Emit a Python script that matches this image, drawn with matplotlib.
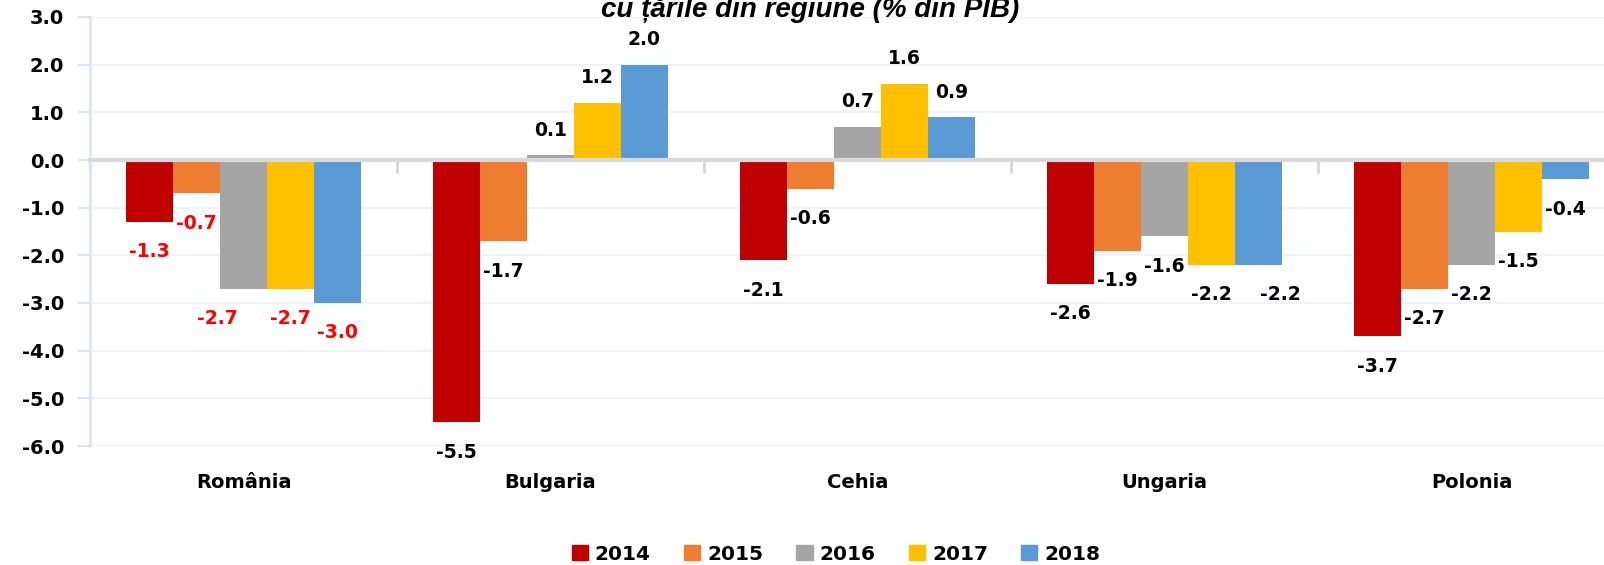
import numpy as np
import matplotlib.pyplot as plt
from matplotlib.patches import Patch

countries = ["România", "Bulgaria", "Cehia", "Ungaria", "Polonia"]
years = ["2014", "2015", "2016", "2017", "2018"]
values_2014 = [-1.3, -5.5, -2.1, -2.6, -3.7]
values_2015 = [-0.7, -1.7, -0.6, -1.9, -2.7]
values_2016 = [-2.7, 0.1, 0.7, -1.6, -2.2]
values_2017 = [-2.7, 1.2, 1.6, -2.2, -1.5]
values_2018 = [-3.0, 2.0, 0.9, -2.2, -0.4]
series = [values_2014, values_2015, values_2016, values_2017, values_2018]

colors = ["#C00000", "#ED7D31", "#A5A5A5", "#FFC000", "#5B9BD5"]
title = "cu țările din regiune (% din PIB)"

# a couple of labels were dragged sideways in the original (px)
label_nudge = {(0, 2): -26, (3, 4): 22}

W, H = 1604, 565
fig = plt.figure(figsize=(W / 100, H / 100), dpi=100)
ax = fig.add_axes([90 / W, 1 - 446 / H, 1535 / W, 429 / H])

x = np.arange(len(countries))
bw = 0.153
for i, vals in enumerate(series):
    pos = x + (i - 2) * bw
    ax.bar(pos, vals, width=bw, color=colors[i], label=years[i], zorder=2)
    for j, v in enumerate(vals):
        dy = 18 if v > 0 else -21.6
        dx = label_nudge.get((j, i), 0) * 0.72
        col = "#FF0000" if j == 0 else "black"
        ax.annotate(f"{v:.1f}", (pos[j], v), xytext=(dx, dy),
                    textcoords="offset points", ha="center", va="center",
                    fontsize=13.5, fontweight="bold", color=col, zorder=4)

ax.set_xlim(-0.5, len(countries) - 0.5)
ax.set_ylim(-6, 3)
ax.set_yticks(np.arange(-6, 3.1, 1.0))
ax.set_yticklabels([f"{t:.1f}" for t in np.arange(-6, 3.1, 1.0)],
                   fontsize=14, fontweight="bold")
ax.tick_params(axis="y", length=8.5, width=1.5, color="#DCE4F2", pad=10)
ax.yaxis.grid(True, color="#EEF3FA", lw=1.3, zorder=0)
ax.set_axisbelow(True)

# category axis crosses at zero (drawn over the bars), labels sit below the plot
ax.spines["bottom"].set_position(("data", 0))
ax.spines["bottom"].set_color("#D9D9D9")
ax.spines["bottom"].set_linewidth(3)
ax.spines["bottom"].set_zorder(3)
ax.spines["left"].set_color("#DAE3F3")
ax.spines["left"].set_linewidth(1.8)
ax.spines["top"].set_visible(False)
ax.spines["right"].set_visible(False)
ax.set_xticks(x)
ax.set_xticklabels([])
ax.set_xticks(np.arange(-0.5, len(countries), 1.0), minor=True)
ax.tick_params(axis="x", which="major", length=0)
ax.tick_params(axis="x", which="minor", length=9, width=2.2, color="#D9D9D9")

for j, name in enumerate(countries):
    ax.text(x[j], -37 / 429, name, transform=ax.get_xaxis_transform(),
            ha="center", va="center", fontsize=14, fontweight="bold")

handles = [Patch(color=c) for c in colors]
fig.legend(handles, years, loc="center", bbox_to_anchor=(836 / W, 1 - 554 / H),
           ncol=5, frameon=False, prop={"size": 14.5, "weight": "bold"},
           handlelength=0.8, handleheight=0.8, handletextpad=0.35,
           columnspacing=1.65)

fig.text(0.505, 1 - 17 / H, title, ha="center", va="baseline",
         fontsize=20, fontweight="bold", fontstyle="italic",
         family="Liberation Sans")

fig.savefig("out.png", dpi=100)
